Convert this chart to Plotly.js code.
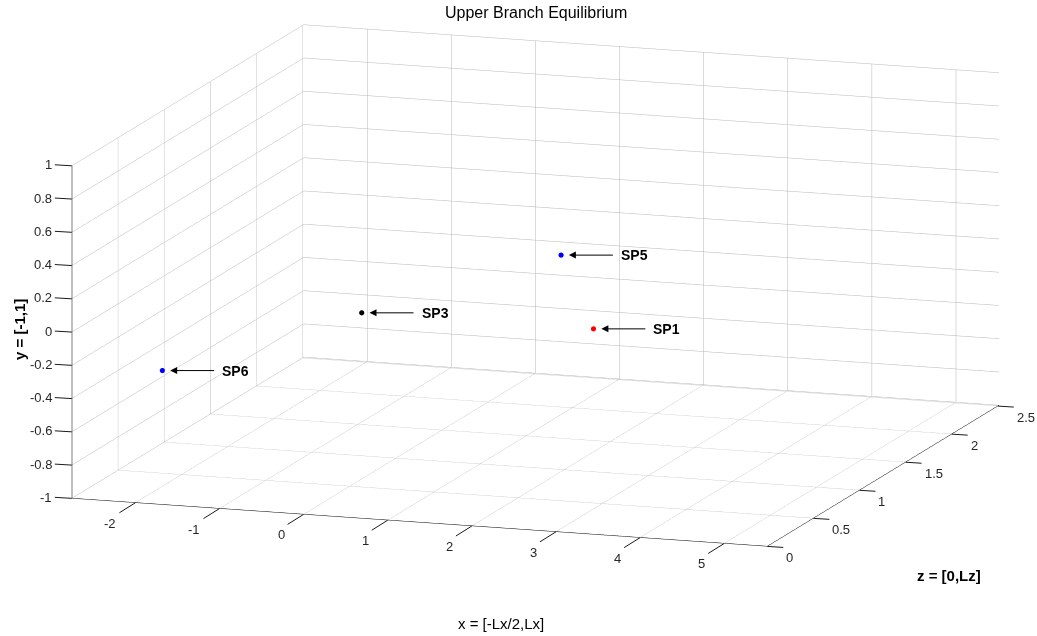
<!DOCTYPE html>
<html>
<head>
<meta charset="utf-8">
<script src="https://cdn.plot.ly/plotly-3.0.1.min.js"></script>
<style>html,body{margin:0;padding:0;background:#fff;}#chart{width:1037px;height:636px;}</style>
</head>
<body>
<div id="chart"></div>
<script>
// Domain lengths
var Lx = 5.5116;
var Lz = 2.5133;

// Stagnation points (x, y = wall-normal, z = spanwise)
var pointNames = ['SP1', 'SP3', 'SP5', 'SP6'];
var pointX = [2.756, 0.0, 2.37, -2.37];
var pointY = [0.0, 0.0, 0.43, -0.43];
var pointZ = [0.628, 0.628, 0.628, 0.628];
var pointColors = ['#ff0000', '#000000', '#0000ff', '#0000ff'];

// Tick labels
var xTicks = [-2, -1, 0, 1, 2, 3, 4, 5];
var yTicks = [-1, -0.8, -0.6, -0.4, -0.2, 0, 0.2, 0.4, 0.6, 0.8, 1];
var zTicks = [0, 0.5, 1, 1.5, 2, 2.5];

var font = 'Liberation Sans, Arial, sans-serif';
var xRange = [-Lx / 2, Lx];
var zRange = [0, Lz];
var yRange = [-1, 1];

var trace = {
  type: 'scatter3d',
  mode: 'markers',
  x: pointX,
  y: pointZ,   // spanwise depth
  z: pointY,   // wall-normal vertical
  marker: {size: 3, color: pointColors, line: {width: 0}},
  hoverinfo: 'skip',
  showlegend: false
};

// Point labels with arrows
var sceneAnn = pointNames.map(function (n, i) {
  return {
    x: pointX[i], y: pointZ[i], z: pointY[i],
    text: '<b>' + n + '</b>',
    showarrow: true, ax: 52, ay: 0,
    xanchor: 'left', yanchor: 'middle', borderpad: 7,
    arrowhead: 2, arrowsize: 1.4, arrowwidth: 1, arrowcolor: '#000',
    standoff: 8,
    font: {family: font, size: 14, color: '#000'}
  };
});

// MATLAB-style tick marks + labels (tick line drawn as the annotation's arrow)
function tickAnn(px, py, pz, label, ax, ay, xa, ya) {
  return {
    x: px, y: py, z: pz, text: label,
    showarrow: true, arrowhead: 0, arrowwidth: 1, arrowcolor: '#1a1a1a',
    ax: ax, ay: ay, xanchor: xa, yanchor: ya, borderpad: 2, standoff: 0,
    font: {family: font, size: 13, color: '#262626'}
  };
}
xTicks.forEach(function (v) {
  sceneAnn.push(tickAnn(v, zRange[0], yRange[0], String(v), -16, 10, 'right', 'top'));
});
yTicks.forEach(function (v) {
  sceneAnn.push(tickAnn(xRange[0], zRange[0], v, String(v), -17, -1, 'right', 'middle'));
});
zTicks.forEach(function (v) {
  sceneAnn.push(tickAnn(xRange[1], v, yRange[0], String(v), 16, 1, 'left', 'top'));
});

function axis(range, ticks) {
  return {
    range: range, tickmode: 'array', tickvals: ticks,
    showticklabels: false, ticks: '',
    showgrid: true, gridcolor: '#b8b8b8', gridwidth: 1,
    showline: true, linecolor: '#000', linewidth: 1,
    zeroline: false, showbackground: false, showspikes: false,
    title: {text: ''}
  };
}

var s = 2.57;
var layout = {
  width: 1037, height: 636,
  margin: {l: 0, r: 0, t: 0, b: 0},
  paper_bgcolor: '#fff',
  title: {text: 'Upper Branch Equilibrium', x: 0.517, xanchor: 'center', y: 0.98, yanchor: 'middle',
          font: {family: font, size: 16, color: '#000'}},
  scene: {
    domain: {x: [0.0326, 1], y: [0.102, 1]},
    xaxis: axis(xRange, xTicks),
    yaxis: axis(zRange, zTicks),
    zaxis: axis(yRange, yTicks),
    aspectmode: 'manual',
    aspectratio: {x: 1 * s, y: 0.989 * s, z: 0.463 * s},
    camera: {
      projection: {type: 'orthographic'},
      up: {x: 0, y: 0, z: 1},
      center: {x: 0, y: 0, z: 0},
      eye: {x: 0.3125 * 2, y: -0.9275 * 2, z: 0.2051 * 2}
    },
    annotations: sceneAnn
  },
  annotations: [
    {text: '<b>y = [-1,1]</b>', xref: 'paper', yref: 'paper', x: 19 / 1037, y: 1 - 330 / 636, textangle: -90,
     xanchor: 'center', yanchor: 'middle',
     showarrow: false, font: {family: font, size: 15, color: '#000'}},
    {text: 'x = [-Lx/2,Lx]', xref: 'paper', yref: 'paper', x: 501 / 1037, y: 1 - 623 / 636,
     xanchor: 'center', yanchor: 'middle',
     showarrow: false, font: {family: font, size: 15, color: '#000'}},
    {text: '<b>z = [0,Lz]</b>', xref: 'paper', yref: 'paper', x: 949 / 1037, y: 1 - 575 / 636,
     xanchor: 'center', yanchor: 'middle',
     showarrow: false, font: {family: font, size: 15, color: '#000'}}
  ]
};

Plotly.newPlot('chart', [trace], layout, {displayModeBar: false});
</script>
</body>
</html>
